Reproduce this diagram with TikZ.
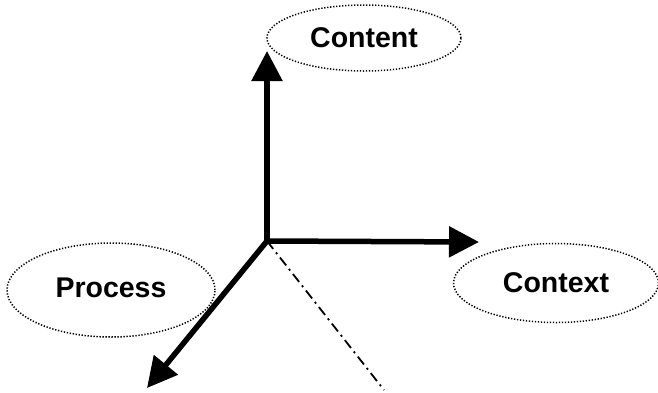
\documentclass[tikz,border=0pt]{standalone}
\usepackage{fontspec}
\setmainfont{Liberation Sans}
\usetikzlibrary{arrows.meta,shapes.geometric}
\tikzset{
  axis/.style={line width=5.5pt, -{Triangle[length=30pt,width=30pt]}},
  facet/.style={ellipse, draw, line width=1.5pt, dash pattern=on 1.3pt off 1.7pt,
    inner sep=0pt, font=\fontsize{28.5}{31}\selectfont\bfseries},
  dashdot/.style={line width=1.8pt, dash pattern=on 10pt off 4.5pt on 2pt off 4.5pt}
}
\begin{document}
\begin{tikzpicture}[x=1pt,y=-1pt]
  \useasboundingbox (0,0) rectangle (658,392);
  % the three facets
  \node[facet, minimum width=194pt, minimum height=66pt] (content) at (364,38) {Content};
  \node[facet, minimum width=208pt, minimum height=94pt] (process) at (111,290) {\raisebox{4pt}{Process}};
  \node[facet, minimum width=205pt, minimum height=79pt] (context) at (556,283) {Context};
  % axes from a common origin
  \coordinate (o) at (267,241);
  \coordinate (up) at (267,51);
  \coordinate (right) at (479,242);
  \coordinate (downleft) at (147,388);
  \coordinate (downright) at (384,390);
  \draw[dashdot] (o) -- (downright);
  \draw[axis] (o) -- (up);
  \draw[axis] (o) -- (right);
  \draw[axis] (o) -- (downleft);
\end{tikzpicture}
\end{document}
